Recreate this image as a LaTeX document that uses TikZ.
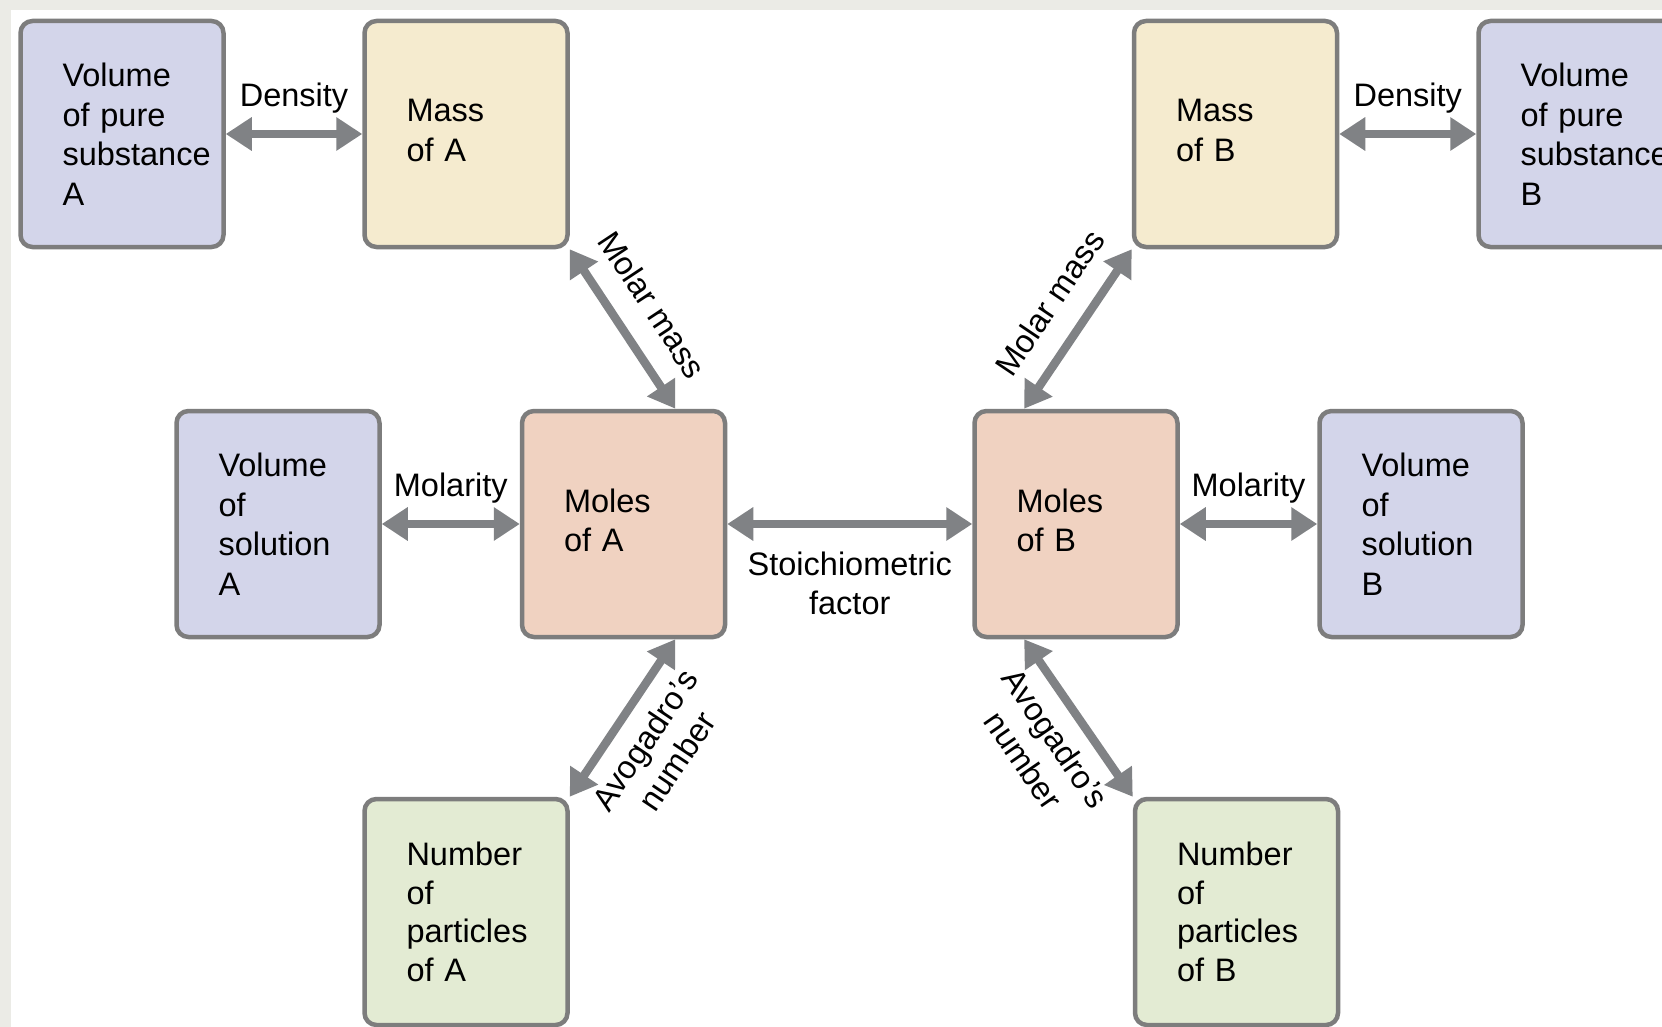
\documentclass[tikz,border=0pt]{standalone}
\usepackage{fontspec}
\setmainfont{Liberation Sans}
\usetikzlibrary{arrows.meta,calc}
\definecolor{bgc}{HTML}{EBEBE6}
\definecolor{volc}{HTML}{D3D5EA}
\definecolor{massc}{HTML}{F5EBCF}
\definecolor{molec}{HTML}{F0D2C1}
\definecolor{numc}{HTML}{E3EBD3}
\definecolor{boxline}{HTML}{7D7D7D}
\definecolor{arrc}{HTML}{808285}
\newcommand{\liftup}{\\[-32pt]\mbox{}}
\begin{document}
\begin{tikzpicture}[x=1pt,y=-1pt,
  box/.style={draw=boxline, line width=4.5pt, rounded corners=12pt,
    minimum width=203pt, minimum height=226pt, text width=119pt,
    align=left, inner sep=0pt, text=black, font=\fontsize{32.5}{39.5}\selectfont},
  vol/.style={box, fill=volc},
  mass/.style={box, fill=massc},
  mole/.style={box, fill=molec},
  num/.style={box, fill=numc, font=\fontsize{32.5}{38.5}\selectfont},
  conn/.style={color=arrc, line width=8.5pt,
    {Triangle[length=26pt,width=32pt]}-{Triangle[length=26pt,width=32pt]}},
  lbl/.style={inner sep=0pt, text=black, align=center, font=\fontsize{32.5}{39}\selectfont}
]
\useasboundingbox (0,0) rectangle (1662,1027);
\clip (0,0) rectangle (1662,1027);
\fill[bgc] (0,0) rectangle (1662,1027);
\fill[white] (11,10) rectangle (1662,1027);

\node[vol]  (volA)  at (122,134)    {Volume\\of pure\\substance\\A};
\node[mass] (massA) at (466,134)    {Mass\\of A\liftup};
\node[mass] (massB) at (1235.5,134) {Mass\\of B\liftup};
\node[vol]  (volB)  at (1580,134)   {Volume\\of pure\\substance\\B};
\node[vol]  (solA)  at (278,524)    {Volume\\of\\solution\\A};
\node[mole] (molA)  at (623.5,524)  {Moles\\of A\liftup};
\node[mole] (molB)  at (1076,524)   {Moles\\of B\liftup};
\node[vol]  (solB)  at (1421,524)   {Volume\\of\\solution\\B};
\node[num]  (numA)  at (466,912)    {Number\\of\\particles\\of A};
\node[num]  (numB)  at (1236.5,912) {Number\\of\\particles\\of B};

\coordinate (molAtop) at ($(molA.north west)!0.75!(molA.north east)$);
\coordinate (molBtop) at ($(molB.north west)!0.25!(molB.north east)$);
\coordinate (molAbot) at ($(molA.south west)!0.75!(molA.south east)$);
\coordinate (molBbot) at ($(molB.south west)!0.25!(molB.south east)$);

\draw[conn] (volA) -- (massA) node[midway, above=17pt, lbl] (dA) {Density};
\draw[conn] (massB) -- (volB) node[midway, above=17pt, lbl] (dB) {Density};
\draw[conn] (solA) -- (molA) node[midway, above=17pt, lbl] (mA) {Molarity};
\draw[conn] (molB) -- (solB) node[midway, above=17pt, lbl] (mB) {Molarity};
\draw[conn] (molA) -- (molB) node[midway, below=24pt, lbl] (sf) {Stoichiometric\\factor};

\draw[conn] (massA.south east) -- (molAtop)
  node[pos=0.48, sloped, above=22pt, lbl] (mmA) {Molar mass};
\draw[conn] (massB.south west) -- (molBtop)
  node[pos=0.47, sloped, above=22pt, lbl] (mmB) {Molar mass};
\draw[conn] (molAbot) -- (numA.north east)
  node[pos=0.53, sloped, below=14pt, lbl] (avA) {Avogadro’s\\number};
\draw[conn] (molBbot) -- (numB.north west)
  node[pos=0.52, sloped, below=14pt, lbl] (avB) {Avogadro’s\\number};
\end{tikzpicture}
\end{document}
